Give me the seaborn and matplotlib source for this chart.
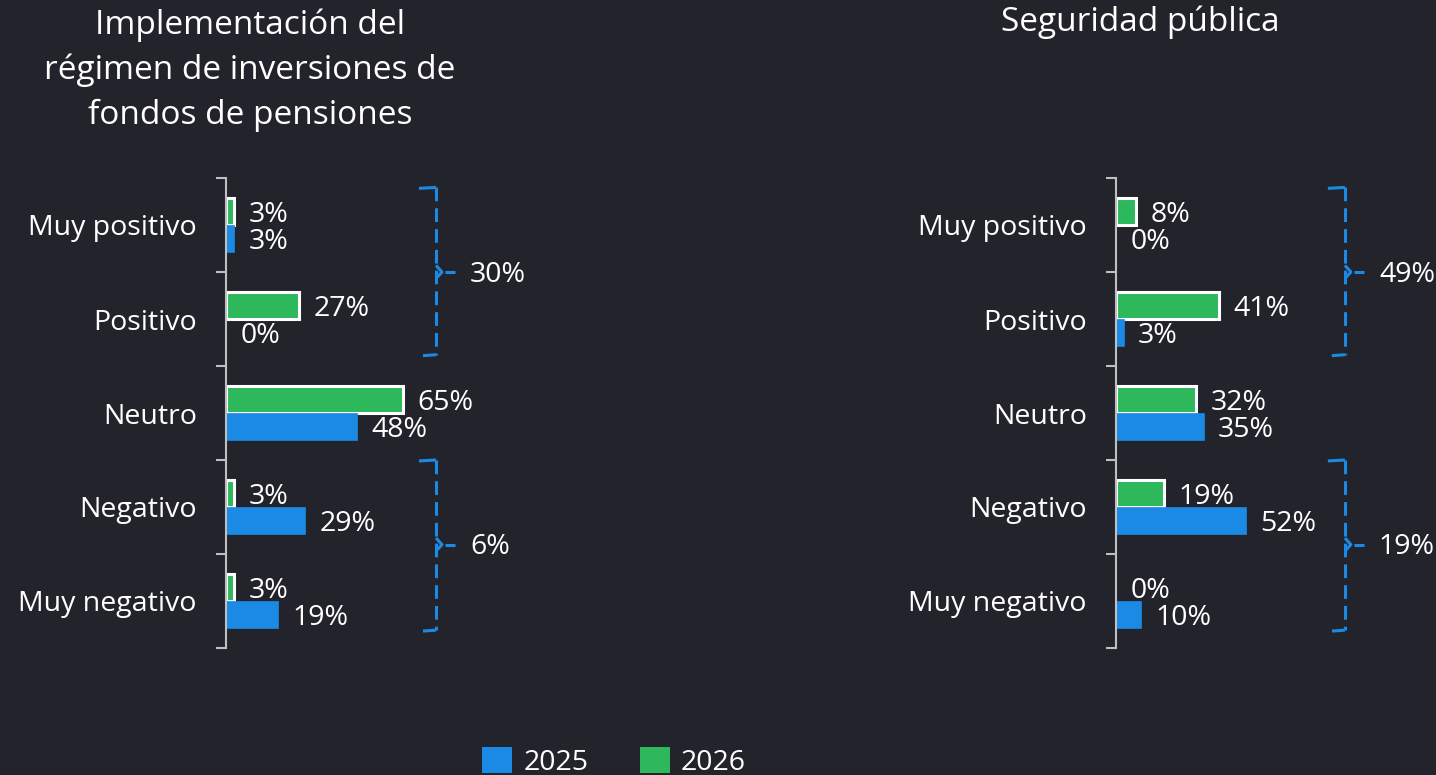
import matplotlib
matplotlib.use("Agg")
import matplotlib.pyplot as plt
import matplotlib.transforms as mtransforms
from matplotlib.patches import Patch
import seaborn as sns
import pandas as pd

# datos
categorias = ["Muy positivo", "Positivo", "Neutro", "Negativo", "Muy negativo"]
pensiones_2025 = [3, 0, 48, 29, 19]
pensiones_2026 = [3, 27, 65, 3, 3]
seguridad_2025 = [0, 3, 35, 52, 10]
seguridad_2026 = [8, 41, 32, 19, 0]
titulo_pensiones = "Implementación del\nrégimen de inversiones de\nfondos de pensiones"
titulo_seguridad = "Seguridad pública"
total_pensiones = ["30%", "6%"]
total_seguridad = ["49%", "19%"]

BG = "#23242b"
BLUE = "#1a8ae5"
GREEN = "#2eb85c"
GRAY = "#bfbfbf"
FS = 20.5

sns.set_theme(style="white")
plt.rcParams["font.family"] = ["Open Sans", "DejaVu Sans"]
plt.rcParams["text.color"] = "white"


def make_df(v25, v26):
    rows = []
    for c, a, b in zip(categorias, v25, v26):
        rows.append({"categoria": c, "anio": "2026", "valor": b})
        rows.append({"categoria": c, "anio": "2025", "valor": a})
    return pd.DataFrame(rows)


def bracket(ax, x, y0, y1, ymid, label):
    # x en fraccion de ejes, y en datos
    tr = mtransforms.blended_transform_factory(ax.transAxes, ax.transData)
    px = 1.0 / 300
    kw = dict(color=BLUE, lw=2.2, transform=tr, clip_on=False, solid_capstyle="butt")
    ax.plot([x, x], [y0, y1], dashes=(4.5, 2.3), **kw)
    ax.plot([x - 17 * px, x], [y0 + 0.01, y0], **kw)
    ax.plot([x - 13 * px, x], [y1 + 0.01, y1], **kw)
    ax.plot([x, x + 6 * px, x], [ymid - 0.07, ymid, ymid + 0.07], **kw)
    ax.plot([x + 9 * px, x + 19 * px], [ymid, ymid], **kw)
    ax.text(x + 34 * px, ymid + 0.03, label, transform=tr, ha="left", va="center",
            fontsize=FS, color="white", clip_on=False)


def etiquetas(ax, container, valores):
    for bar, v in zip(container, valores):
        y = bar.get_y() + bar.get_height() / 2
        ax.annotate(f"{v}%", (bar.get_width(), y), xytext=(10.5, -2.5),
                    textcoords="offset points", ha="left", va="center",
                    fontsize=FS, color="white")


def panel(ax, v25, v26, xmax, bx, totales):
    df = make_df(v25, v26)
    sns.barplot(data=df, y="categoria", x="valor", hue="anio",
                hue_order=["2026", "2025"], order=categorias,
                palette={"2026": GREEN, "2025": BLUE}, orient="h",
                width=0.57, ax=ax, legend=False, saturation=1)
    for bar, v in zip(ax.containers[0], v26):
        if v > 0:
            bar.set_edgecolor("white")
            bar.set_linewidth(2.2)
        else:
            bar.set_linewidth(0)
    for bar in ax.containers[1]:
        bar.set_edgecolor(BLUE)
        bar.set_linewidth(0.5)
    etiquetas(ax, ax.containers[0], v26)
    etiquetas(ax, ax.containers[1], v25)
    ax.set_xlim(0, xmax)
    ax.set_ylim(4.5, -0.5)
    ax.set_facecolor(BG)
    ax.set_xlabel("")
    ax.set_ylabel("")
    ax.set_xticks([])
    for s in ["top", "right", "bottom"]:
        ax.spines[s].set_visible(False)
    ax.spines["left"].set_color(GRAY)
    ax.spines["left"].set_linewidth(1.5)
    ax.set_yticks(range(5))
    ax.set_yticklabels(categorias, fontsize=FS, color="white")
    ax.set_yticks([i - 0.5 for i in range(6)], minor=True)
    ax.tick_params(axis="y", which="major", length=0, pad=21)
    ax.tick_params(axis="y", which="minor", length=7, width=1.5, color=GRAY, left=True)
    bracket(ax, bx, -0.4, 1.38, 0.5, totales[0])
    bracket(ax, bx, 2.5, 4.31, 3.4, totales[1])


fig = plt.figure(figsize=(14.36, 7.75), dpi=100)
fig.patch.set_facecolor(BG)

ax1 = fig.add_axes([226 / 1436, 127 / 775, 300 / 1436, 470 / 775])
ax2 = fig.add_axes([1116 / 1436, 127 / 775, 300 / 1436, 470 / 775])

panel(ax1, pensiones_2025, pensiones_2026, 300 / 2.72, 0.70, total_pensiones)
panel(ax2, seguridad_2025, seguridad_2026, 120, 0.763, total_seguridad)

fig.text(250 / 1436, 1 - 70 / 775, titulo_pensiones, ha="center", va="center",
         fontsize=24, color="white", linespacing=1.45)
fig.text(1140 / 1436, 1 - 22 / 775, titulo_seguridad, ha="center", va="center",
         fontsize=24, color="white")

handles = [Patch(facecolor=BLUE, edgecolor="none", label="2025"),
           Patch(facecolor=GREEN, edgecolor="none", label="2026")]
fig.legend(handles=handles, loc="center", bbox_to_anchor=(614 / 1436, 1 - 762 / 775),
           ncol=2, frameon=False, fontsize=FS, handlelength=1.05, handleheight=1.05,
           handletextpad=0.4, columnspacing=1.8, labelcolor="white")

fig.savefig("out.png", dpi=100, facecolor=BG)
